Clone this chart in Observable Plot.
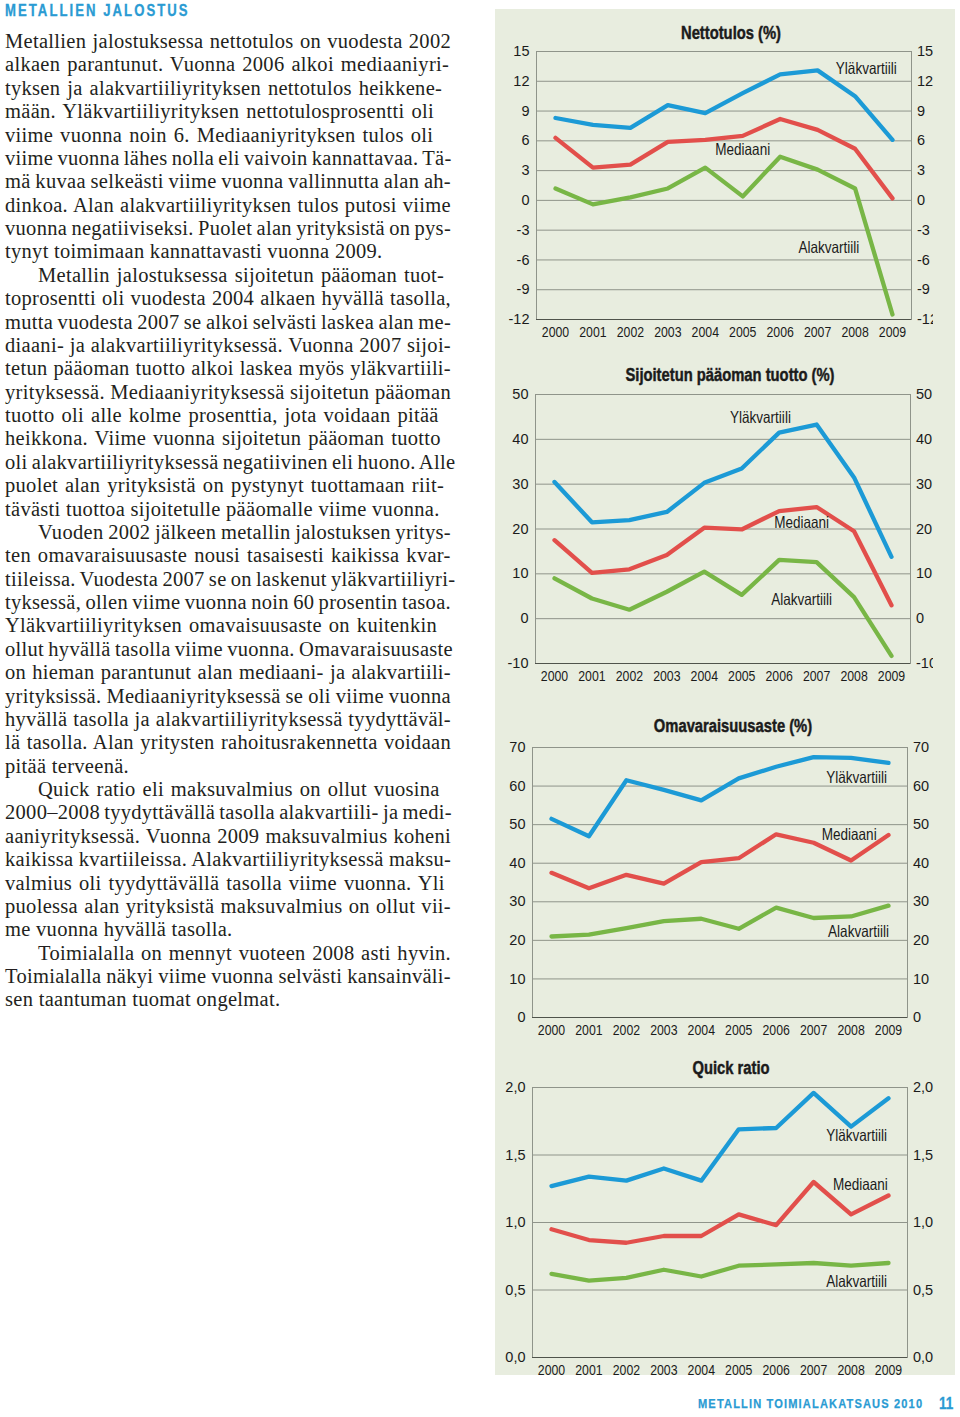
<!DOCTYPE html>
<html><head><meta charset="utf-8">
<script src="https://cdn.jsdelivr.net/npm/d3@7"></script>
<script src="https://cdn.jsdelivr.net/npm/@observablehq/plot@0.6"></script>
<style>
html,body{margin:0;padding:0;background:#fff;}
body{width:960px;height:1417px;position:relative;overflow:hidden;}
.cond{font-family:"Liberation Sans",Arial,sans-serif;white-space:nowrap;display:inline-block;}
#head{position:absolute;left:5px;top:1px;font-size:16px;font-weight:bold;letter-spacing:2.5px;color:#2a9bd3;line-height:20px;transform:scaleX(0.82);transform-origin:0 50%;-webkit-text-stroke:0.3px #2a9bd3;}
#text{position:absolute;left:5px;top:30px;width:460px;font-family:"Liberation Serif","Times New Roman",serif;font-size:20.5px;letter-spacing:0.3px;color:#231f20;}
.ln{height:23.39px;line-height:23.39px;white-space:nowrap;}
#panel{position:absolute;left:495px;top:9px;width:460px;height:1366px;background:#e8eddf;}
.title{position:absolute;font-weight:bold;font-size:18px;color:#1b1b1b;transform:translate(-50%,-50%) scaleX(0.82);transform-origin:50% 50%;-webkit-text-stroke:0.45px #1b1b1b;}
.chart{position:absolute;left:495px;}
#foot{position:absolute;left:698px;top:1395px;font-size:13.5px;font-weight:bold;letter-spacing:1.4px;color:#2a9bd3;line-height:18px;transform:scaleX(0.82);transform-origin:0 50%;-webkit-text-stroke:0.25px #2a9bd3;}
#pg{position:absolute;left:939px;top:1393px;font-size:16.5px;font-weight:bold;color:#2a9bd3;line-height:20px;transform:scaleX(0.82);transform-origin:0 50%;-webkit-text-stroke:0.3px #2a9bd3;}
</style>
</head>
<body>
<div id="panel"></div>
<div id="head" class="cond">METALLIEN JALOSTUS</div>
<div id="text"></div>
<div id="foot" class="cond">METALLIN TOIMIALAKATSAUS 2010</div>
<div id="pg" class="cond">11</div>
<script>
// ---- data ----
const years = [2000, 2001, 2002, 2003, 2004, 2005, 2006, 2007, 2008, 2009];
const seriesNames = ["Yläkvartiili", "Mediaani", "Alakvartiili"];

const netUpper  = [8.3, 7.6, 7.3, 9.6, 8.8, 10.8, 12.7, 13.1, 10.5, 6.1];
const netMedian = [6.3, 3.3, 3.6, 5.9, 6.1, 6.5, 8.2, 7.1, 5.2, 0.2];
const netLower  = [1.2, -0.4, 0.3, 1.2, 3.3, 0.4, 4.4, 3.1, 1.2, -11.5];

const roiUpper  = [30.5, 21.5, 22.0, 23.8, 30.3, 33.5, 41.5, 43.3, 31.5, 13.8];
const roiMedian = [17.5, 10.2, 11.0, 14.2, 20.3, 19.9, 24.0, 24.9, 19.5, 3.0];
const roiLower  = [9.0, 4.5, 2.0, 6.0, 10.5, 5.3, 13.1, 12.6, 4.8, -8.3];

const eqUpper  = [51.5, 47.0, 61.5, 59.0, 56.3, 62.0, 65.0, 67.5, 67.3, 66.0];
const eqMedian = [37.5, 33.5, 37.0, 34.7, 40.3, 41.3, 47.5, 45.3, 40.7, 47.3];
const eqLower  = [21.0, 21.5, 23.2, 25.0, 25.6, 23.0, 28.5, 25.8, 26.2, 29.0];

const qrUpper  = [1.27, 1.34, 1.31, 1.40, 1.31, 1.69, 1.70, 1.96, 1.71, 1.92];
const qrMedian = [0.95, 0.87, 0.85, 0.90, 0.90, 1.06, 0.98, 1.30, 1.06, 1.20];
const qrLower  = [0.62, 0.57, 0.59, 0.65, 0.60, 0.68, 0.69, 0.70, 0.68, 0.70];

const netTicks = [-12, -9, -6, -3, 0, 3, 6, 9, 12, 15];
const roiTicks = [-10, 0, 10, 20, 30, 40, 50];
const eqTicks  = [0, 10, 20, 30, 40, 50, 60, 70];
const qrTicks  = [0, 0.5, 1, 1.5, 2];
const qrTickLabels = ["0,0", "0,5", "1,0", "1,5", "2,0"];

const chartTitles = ["Nettotulos (%)", "Sijoitetun pääoman tuotto (%)", "Omavaraisuusaste (%)", "Quick ratio"];

const paragraphs = [
 ["Metallien jalostuksessa nettotulos on vuodesta 2002",
  "alkaen parantunut. Vuonna 2006 alkoi mediaaniyri-",
  "tyksen ja alakvartiiliyrityksen nettotulos heikkene-",
  "mään. Yläkvartiiliyrityksen nettotulosprosentti oli",
  "viime vuonna noin 6. Mediaaniyrityksen tulos oli",
  "viime vuonna lähes nolla eli vaivoin kannattavaa. Tä-",
  "mä kuvaa selkeästi viime vuonna vallinnutta alan ah-",
  "dinkoa. Alan alakvartiiliyrityksen tulos putosi viime",
  "vuonna negatiiviseksi. Puolet alan yrityksistä on pys-",
  "tynyt toimimaan kannattavasti vuonna 2009."],
 ["Metallin jalostuksessa sijoitetun pääoman tuot-",
  "toprosentti oli vuodesta 2004 alkaen hyvällä tasolla,",
  "mutta vuodesta 2007 se alkoi selvästi laskea alan me-",
  "diaani- ja alakvartiiliyrityksessä. Vuonna 2007 sijoi-",
  "tetun pääoman tuotto alkoi laskea myös yläkvartiili-",
  "yrityksessä. Mediaaniyrityksessä sijoitetun pääoman",
  "tuotto oli alle kolme prosenttia, jota voidaan pitää",
  "heikkona. Viime vuonna sijoitetun pääoman tuotto",
  "oli alakvartiiliyrityksessä negatiivinen eli huono. Alle",
  "puolet alan yrityksistä on pystynyt tuottamaan riit-",
  "tävästi tuottoa sijoitetulle pääomalle viime vuonna."],
 ["Vuoden 2002 jälkeen metallin jalostuksen yritys-",
  "ten omavaraisuusaste nousi tasaisesti kaikissa kvar-",
  "tiileissa. Vuodesta 2007 se on laskenut yläkvartiiliyri-",
  "tyksessä, ollen viime vuonna noin 60 prosentin tasoa.",
  "Yläkvartiiliyrityksen omavaisuusaste on kuitenkin",
  "ollut hyvällä tasolla viime vuonna. Omavaraisuusaste",
  "on hieman parantunut alan mediaani- ja alakvartiili-",
  "yrityksissä. Mediaaniyrityksessä se oli viime vuonna",
  "hyvällä tasolla ja alakvartiiliyrityksessä tyydyttäväl-",
  "lä tasolla. Alan yritysten rahoitusrakennetta voidaan",
  "pitää terveenä."],
 ["Quick ratio eli maksuvalmius on ollut vuosina",
  "2000–2008 tyydyttävällä tasolla alakvartiili- ja medi-",
  "aaniyrityksessä. Vuonna 2009 maksuvalmius koheni",
  "kaikissa kvartiileissa.  Alakvartiiliyrityksessä maksu-",
  "valmius oli tyydyttävällä tasolla viime vuonna. Yli",
  "puolessa alan yrityksistä maksuvalmius on ollut vii-",
  "me vuonna hyvällä tasolla."],
 ["Toimialalla on mennyt vuoteen 2008 asti hyvin.",
  "Toimialalla näkyi viime vuonna selvästi kansainväli-",
  "sen taantuman tuomat ongelmat."]
];

// ---- styles ----
const seriesColors = ["#1c9ad6", "#e24f4b", "#78b646"];
const FONT_R = '"Liberation Sans",Arial,sans-serif';
const NARROW = 0.82;

// ---- body text (ragged right, lightly evened) ----
const textDiv = document.getElementById("text");
const TARGET = 451 - 5;
paragraphs.forEach((p, pi) => {
  p.forEach((line, li) => {
    const d = document.createElement("div");
    d.className = "ln";
    const s = document.createElement("span");
    s.textContent = line;
    d.appendChild(s);
    const indent = (pi > 0 && li === 0) ? 33 : 0;
    if (indent) d.style.paddingLeft = indent + "px";
    textDiv.appendChild(d);
    if (li < p.length - 1) {
      const w = s.getBoundingClientRect().width;
      const spaces = (line.match(/ /g) || []).length;
      if (spaces > 0) {
        const extra = Math.max(-1.2, Math.min(1.5, (TARGET - indent - w) / spaces));
        s.style.wordSpacing = extra.toFixed(2) + "px";
      }
    }
  });
});

// condensed look for svg texts (element must be in the document)
function condenseText(t, k) {
  const w = t.getComputedTextLength();
  if (w > 0) {
    t.setAttribute("textLength", (w * k).toFixed(2));
    t.setAttribute("lengthAdjust", "spacingAndGlyphs");
  }
}

// ---- charts ----
function makeChart(spec) {
  const rows = [];
  spec.values.forEach((vals, k) => vals.forEach((v, i) => rows.push({year: years[i], value: v, series: seriesNames[k]})));
  const plot = Plot.plot({
    width: spec.width, height: spec.height,
    marginTop: spec.mt, marginBottom: spec.mb, marginLeft: spec.ml, marginRight: spec.mr,
    style: {background: "transparent", overflow: "hidden", fontFamily: FONT_R, fontSize: "14px", color: "#1b1b1b"},
    x: {type: "linear", domain: [2000, 2009], insetLeft: spec.inset, insetRight: spec.inset},
    y: {type: "linear", domain: [spec.ticks[0], spec.ticks[spec.ticks.length - 1]]},
    color: {domain: seriesNames, range: seriesColors},
    marks: [
      Plot.ruleY(spec.ticks.slice(1, -1), {stroke: "#8f948a", strokeWidth: 1}),
      Plot.frame({stroke: "#8f948a", strokeWidth: 1}),
      Plot.ruleY([spec.ticks[0]], {stroke: "#4f534b", strokeWidth: 1.2}),
      Plot.axisX(years, {anchor: "bottom", tickSize: 0, tickPadding: 7, tickFormat: d => String(d), label: null, fontSize: 15}),
      Plot.axisY(spec.ticks, {anchor: "left", tickSize: 0, tickPadding: 7, tickFormat: spec.fmt, label: null, fontSize: 14.5}),
      Plot.axisY(spec.ticks, {anchor: "right", tickSize: 0, tickPadding: 5.5, tickFormat: spec.fmt, label: null, fontSize: 14.5}),
      Plot.line(rows, {x: "year", y: "value", z: "series", stroke: "series", strokeWidth: 4.3}),
      Plot.text(seriesNames, {x: (d, i) => spec.lx[i], y: (d, i) => spec.ly[i], text: d => d, fontSize: 16.5, fill: "#1b1b1b"})
    ]
  });
  const wrap = document.createElement("div");
  wrap.className = "chart";
  wrap.style.top = spec.top + "px";
  wrap.appendChild(plot);
  document.body.appendChild(wrap);

  const yearStrings = years.map(String);
  plot.querySelectorAll("text").forEach(t => {
    const s = t.textContent;
    if (yearStrings.includes(s) || seriesNames.includes(s)) condenseText(t, NARROW);
  });

  const t = document.createElement("div");
  t.className = "title cond";
  t.textContent = spec.title;
  t.style.left = spec.tx + "px";
  t.style.top = spec.ty + "px";
  document.body.appendChild(t);
}

const plain = d => String(d);

makeChart({title: chartTitles[0], tx: 731, ty: 33, top: 39, width: 438, height: 304, mt: 12, mb: 24, ml: 41, mr: 22, inset: 19,
  ticks: netTicks, fmt: plain, values: [netUpper, netMedian, netLower],
  lx: [2008.3, 2005.0, 2007.3], ly: [13.3, 5.1, -4.8]});
makeChart({title: chartTitles[1], tx: 730, ty: 375, top: 382, width: 438, height: 305, mt: 12, mb: 24, ml: 40, mr: 23, inset: 19,
  ticks: roiTicks, fmt: plain, values: [roiUpper, roiMedian, roiLower],
  lx: [2005.5, 2006.6, 2006.6], ly: [44.8, 21.4, 4.3]});
makeChart({title: chartTitles[2], tx: 733, ty: 726, top: 735, width: 460, height: 306, mt: 12, mb: 24, ml: 37, mr: 48, inset: 19,
  ticks: eqTicks, fmt: plain, values: [eqUpper, eqMedian, eqLower],
  lx: [2008.15, 2007.95, 2008.2], ly: [62.2, 47.4, 22.3]});
makeChart({title: chartTitles[3], tx: 731, ty: 1068, top: 1075, width: 460, height: 306, mt: 12, mb: 24, ml: 37, mr: 48, inset: 19,
  ticks: qrTicks, fmt: d => qrTickLabels[qrTicks.indexOf(d)], values: [qrUpper, qrMedian, qrLower],
  lx: [2008.15, 2008.25, 2008.15], ly: [1.64, 1.28, 0.56]});
</script>
</body></html>
